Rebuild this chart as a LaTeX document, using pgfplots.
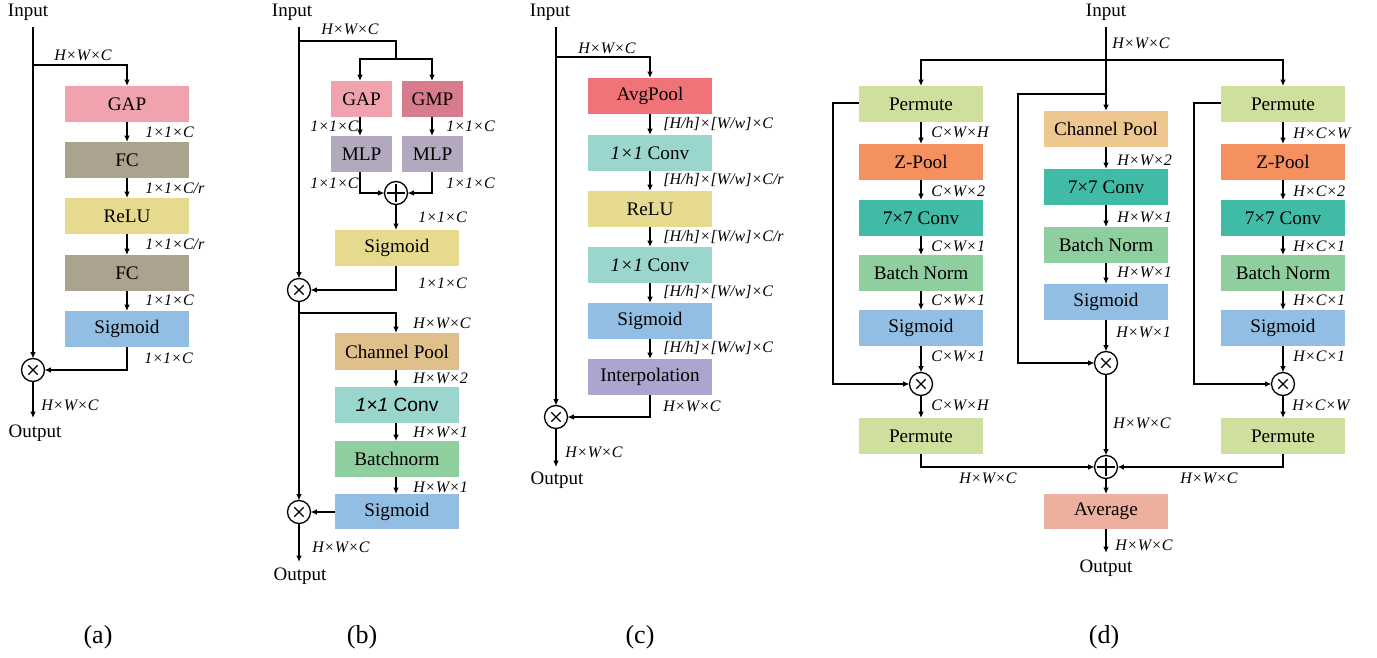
\documentclass[border=0pt]{standalone}
\usepackage{fontspec}
\setmainfont{Liberation Serif}
\newfontfamily\sansf{Liberation Sans}
\usepackage{pgfplots}
\pgfplotsset{compat=1.18}
\usetikzlibrary{arrows.meta,calc}

\definecolor{cGAP}{RGB}{240,163,173}
\definecolor{cFC}{RGB}{171,162,144}
\definecolor{cRelu}{RGB}{230,218,142}
\definecolor{cSig}{RGB}{147,190,227}
\definecolor{cGMP}{RGB}{216,123,140}
\definecolor{cMLP}{RGB}{178,169,190}
\definecolor{cCPb}{RGB}{223,191,138}
\definecolor{cConv}{RGB}{154,214,205}
\definecolor{cBN}{RGB}{143,206,158}
\definecolor{cAvg}{RGB}{240,115,119}
\definecolor{cInt}{RGB}{173,165,208}
\definecolor{cPerm}{RGB}{207,223,157}
\definecolor{cZ}{RGB}{244,145,94}
\definecolor{cSeven}{RGB}{64,188,166}
\definecolor{cCPd}{RGB}{237,199,143}
\definecolor{cAver}{RGB}{237,176,159}

\newcommand{\bxf}{\fontsize{9.6}{12}\selectfont}
\newcommand{\lbf}{\fontsize{8}{9.5}\selectfont\itshape}
\newcommand{\iof}{\fontsize{9.5}{11}\selectfont}
\newcommand{\subf}{\fontsize{13}{15}\selectfont}

\tikzset{ln/.style={black,line width=0.65pt},
  ar/.style={black,line width=0.65pt,-{Latex[length=3.2pt,width=2.8pt]}}}

\newcommand{\blk}[6]{%
  \addplot[fill=#5,draw=none] coordinates {(#1,#2) (#3,#2) (#3,#4) (#1,#4)};
  \node[font=\bxf,inner sep=0pt] at ($(axis cs:#1,#2)!0.5!(axis cs:#3,#4)$) {#6};
}
\newcommand{\lbw}[3]{\node[font=\lbf,anchor=west,inner sep=0pt] at (axis cs:#1,#2) {#3};}
\newcommand{\lbe}[3]{\node[font=\lbf,anchor=east,inner sep=0pt] at (axis cs:#1,#2) {#3};}
\newcommand{\lbc}[3]{\node[font=\lbf,inner sep=0pt] at (axis cs:#1,#2) {#3};}
\newcommand{\io}[3]{\node[font=\iof,inner sep=0pt] at (axis cs:#1,#2) {#3};}
\newcommand{\sub}[3]{\node[font=\subf,inner sep=0pt] at (axis cs:#1,#2) {#3};}
\newcommand{\ar}[1]{\addplot[ar] coordinates {#1};}
\newcommand{\lnn}[1]{\addplot[ln] coordinates {#1};}

\begin{document}
\begin{tikzpicture}
\begin{axis}[scale only axis, width=688.5pt, height=329pt,
  xmin=0, xmax=1377, ymin=0, ymax=658, y dir=reverse,
  hide axis, clip=false]
\addplot[draw=none] coordinates {(0,0) (1377,658)};

% ================= (a)
\ar{(33,27) (33,358.5)}
\ar{(33,65) (127,65) (127,86)}
\ar{(127,122) (127,142)}
\ar{(127,178) (127,198)}
\ar{(127,234) (127,255)}
\ar{(127,291) (127,311)}
\ar{(127,347) (127,370) (44.5,370)}
\ar{(33,381.5) (33,418)}
\blk{65}{86}{189}{122}{cGAP}{GAP}
\blk{65}{142}{189}{178}{cFC}{FC}
\blk{65}{198}{189}{234}{cRelu}{ReLU}
\blk{65}{255}{189}{291}{cFC}{FC}
\blk{65}{311}{189}{347}{cSig}{Sigmoid}
\lbc{83}{55}{H×W×C}
\lbw{145}{132}{1×1×C}
\lbw{145}{188}{1×1×C/r}
\lbw{145}{244}{1×1×C/r}
\lbw{145}{300}{1×1×C}
\lbw{144}{358}{1×1×C}
\lbc{70}{405}{H×W×C}
\io{28}{12}{Input}
\io{35}{433}{Output}
\sub{98}{637}{(a)}

% ================= (b)
\ar{(299,27) (299,278.5)}
\lnn{(299,41) (396,41) (396,59)}
\ar{(396,59) (360,59) (360,81)}
\ar{(396,59) (432,59) (432,81)}
\ar{(360,117) (360,136)}
\ar{(432,117) (432,136)}
\ar{(360,172) (360,193) (384.5,193)}
\ar{(432,172) (432,193) (407.5,193)}
\ar{(396,204.5) (396,230)}
\ar{(396,266) (396,290) (310.5,290)}
\ar{(299,301.5) (299,500.5)}
\ar{(299,313) (396,313) (396,333)}
\ar{(396,370) (396,387)}
\ar{(396,423) (396,441)}
\ar{(396,477) (396,494)}
\ar{(335,512) (310.5,512)}
\ar{(299,523.5) (299,562)}
\blk{331}{81}{392}{117}{cGAP}{GAP}
\blk{402}{81}{463}{117}{cGMP}{GMP}
\blk{331}{136}{392}{172}{cMLP}{MLP}
\blk{402}{136}{463}{172}{cMLP}{MLP}
\blk{335}{230}{459}{266}{cRelu}{Sigmoid}
\blk{335}{333}{459}{370}{cCPb}{Channel Pool}
\blk{335}{387}{459}{423}{cConv}{{\sansf\textit{1×1} Conv}}
\blk{335}{441}{459}{477}{cBN}{Batchnorm}
\blk{335}{494}{459}{529}{cSig}{Sigmoid}
\lbc{350}{29}{H×W×C}
\lbe{359}{126}{1×1×C}
\lbw{446}{126}{1×1×C}
\lbe{359}{183}{1×1×C}
\lbw{446}{183}{1×1×C}
\lbw{418}{217}{1×1×C}
\lbw{418}{283}{1×1×C}
\lbw{413}{323}{H×W×C}
\lbw{413}{378}{H×W×2}
\lbw{413}{432}{H×W×1}
\lbw{413}{487}{H×W×1}
\lbw{312}{547}{H×W×C}
\io{292}{12}{Input}
\io{300}{576}{Output}
\sub{362}{637}{(b)}

% ================= (c)
\ar{(556,27) (556,405.5)}
\ar{(556,57) (650,57) (650,78)}
\ar{(650,114) (650,135)}
\ar{(650,171) (650,191)}
\ar{(650,227) (650,247)}
\ar{(650,283) (650,303)}
\ar{(650,339) (650,359)}
\ar{(650,395) (650,417) (567.5,417)}
\ar{(556,428.5) (556,467)}
\blk{588}{78}{712}{114}{cAvg}{AvgPool}
\blk{588}{135}{712}{171}{cConv}{\textit{1×1} Conv}
\blk{588}{191}{712}{227}{cRelu}{ReLU}
\blk{588}{247}{712}{283}{cConv}{\textit{1×1} Conv}
\blk{588}{303}{712}{339}{cSig}{Sigmoid}
\blk{588}{359}{712}{395}{cInt}{Interpolation}
\lbc{607}{48}{H×W×C}
\lbw{663}{124}{[H/h]×[W/w]×C}
\lbw{663}{180}{[H/h]×[W/w]×C/r}
\lbw{663}{237}{[H/h]×[W/w]×C/r}
\lbw{663}{292}{[H/h]×[W/w]×C}
\lbw{663}{348}{[H/h]×[W/w]×C}
\lbw{663}{406}{H×W×C}
\lbw{565}{452}{H×W×C}
\io{550}{12}{Input}
\io{557}{480}{Output}
\sub{640}{637}{(c)}

% ================= (d)
\ar{(1106,27) (1106,111)}
\ar{(1106,60) (921,60) (921,86)}
\ar{(1106,60) (1283,60) (1283,86)}
\ar{(1106,94) (1018,94) (1018,363) (1094.5,363)}
\ar{(859,103) (833,103) (833,384) (909.5,384)}
\ar{(1221,103) (1194,103) (1194,384) (1271.5,384)}
% left column
\ar{(921,122) (921,144)}
\ar{(921,180) (921,200)}
\ar{(921,236) (921,255)}
\ar{(921,291) (921,310)}
\ar{(921,346) (921,372.5)}
\ar{(921,395.5) (921,418)}
\ar{(921,454) (921,467) (1094.5,467)}
% right column
\ar{(1283,122) (1283,144)}
\ar{(1283,180) (1283,200)}
\ar{(1283,236) (1283,255)}
\ar{(1283,291) (1283,310)}
\ar{(1283,346) (1283,372.5)}
\ar{(1283,395.5) (1283,418)}
\ar{(1283,454) (1283,467) (1117.5,467)}
% middle column
\ar{(1106,147) (1106,169)}
\ar{(1106,205) (1106,227)}
\ar{(1106,263) (1106,284)}
\ar{(1106,320) (1106,351.5)}
\ar{(1106,374.5) (1106,455.5)}
\ar{(1106,478.5) (1106,494)}
\ar{(1106,529) (1106,553)}
\blk{859}{86}{983}{122}{cPerm}{Permute}
\blk{859}{144}{983}{180}{cZ}{Z-Pool}
\blk{859}{200}{983}{236}{cSeven}{7×7 Conv}
\blk{859}{255}{983}{291}{cBN}{Batch Norm}
\blk{859}{310}{983}{346}{cSig}{Sigmoid}
\blk{859}{418}{983}{454}{cPerm}{Permute}
\blk{1221}{86}{1345}{122}{cPerm}{Permute}
\blk{1221}{144}{1345}{180}{cZ}{Z-Pool}
\blk{1221}{200}{1345}{236}{cSeven}{7×7 Conv}
\blk{1221}{255}{1345}{291}{cBN}{Batch Norm}
\blk{1221}{310}{1345}{346}{cSig}{Sigmoid}
\blk{1221}{418}{1345}{454}{cPerm}{Permute}
\blk{1044}{111}{1168}{147}{cCPd}{Channel Pool}
\blk{1044}{169}{1168}{205}{cSeven}{7×7 Conv}
\blk{1044}{227}{1168}{263}{cBN}{Batch Norm}
\blk{1044}{284}{1168}{320}{cSig}{Sigmoid}
\blk{1044}{494}{1168}{529}{cAver}{Average}
\lbw{1112}{43}{H×W×C}
\lbw{931}{132}{C×W×H}
\lbw{931}{191}{C×W×2}
\lbw{931}{246}{C×W×1}
\lbw{931}{300}{C×W×1}
\lbw{931}{356}{C×W×1}
\lbw{931}{405}{C×W×H}
\lbw{1293}{133}{H×C×W}
\lbw{1293}{191}{H×C×2}
\lbw{1293}{246}{H×C×1}
\lbw{1293}{300}{H×C×1}
\lbw{1293}{356}{H×C×1}
\lbw{1292}{405}{H×C×W}
\lbw{1117}{160}{H×W×2}
\lbw{1117}{217}{H×W×1}
\lbw{1117}{272}{H×W×1}
\lbw{1116}{332}{H×W×1}
\lbw{1113}{423}{H×W×C}
\lbw{1115}{545}{H×W×C}
\lbc{988}{478}{H×W×C}
\lbc{1209}{478}{H×W×C}
\io{1106}{12}{Input}
\io{1106}{568}{Output}
\sub{1104}{637}{(d)}

% ================= operators
\addplot[only marks, mark=*, mark size=5.75pt, mark options={fill=white,draw=black,line width=0.65pt}]
  coordinates {(33,370) (299,290) (299,512) (556,417) (921,384) (1106,363) (1283,384) (396,193) (1106,467)};
\addplot[only marks, mark=x, mark size=3.3pt, mark options={black,line width=0.6pt}]
  coordinates {(33,370) (299,290) (299,512) (556,417) (921,384) (1106,363) (1283,384)};
\addplot[only marks, mark=+, mark size=4.7pt, mark options={black,line width=0.6pt}]
  coordinates {(396,193) (1106,467)};
\end{axis}
\end{tikzpicture}
\end{document}
